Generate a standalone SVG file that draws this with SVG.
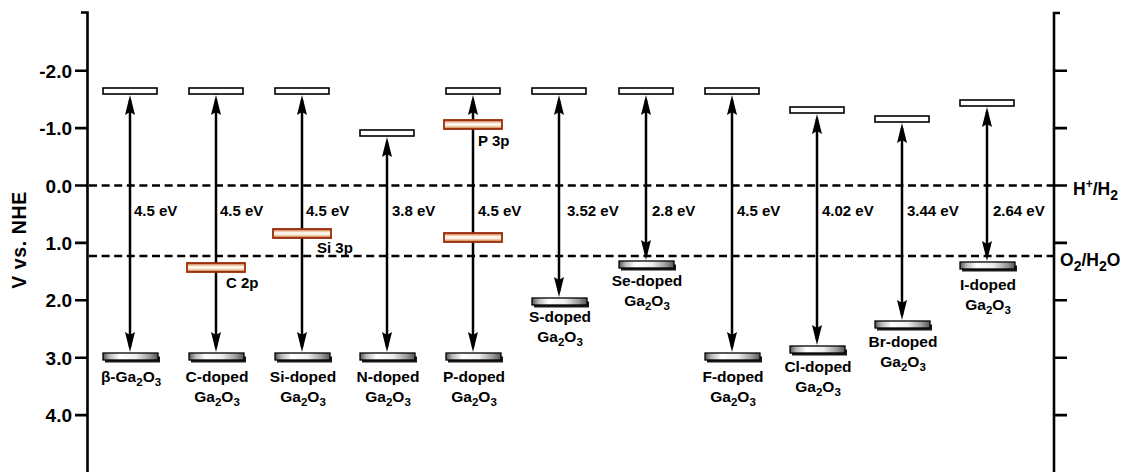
<svg xmlns="http://www.w3.org/2000/svg" width="1129" height="472" viewBox="0 0 1129 472">
<defs>
<style>
text{font-family:"Liberation Sans",Arial,sans-serif;font-weight:bold;fill:#000}
.tick{font-size:19px;text-anchor:end}
.lab{font-size:15.5px;text-anchor:middle}
.ev{font-size:15px}
.axis{stroke:#000;stroke-width:2.6;fill:none}
.dash{stroke:#000;stroke-width:2.4;stroke-dasharray:8 4.6;fill:none}
.cb{fill:#fff;stroke:#000;stroke-width:1.6}
.vb{fill:url(#gvb);stroke:#000;stroke-width:1.3}
.sh{fill:#1a1a1a}
.imp{fill:url(#gimp);stroke:#9a2a0c;stroke-width:1.8}
.arr{stroke:#000;stroke-width:2.5;fill:none;marker-start:url(#ah);marker-end:url(#ah)}
</style>
<linearGradient id="gvb" x1="0" y1="0" x2="1" y2="0">
<stop offset="0" stop-color="#555"/>
<stop offset="0.12" stop-color="#bbb"/>
<stop offset="0.3" stop-color="#ffffff"/>
<stop offset="0.6" stop-color="#eeeeee"/>
<stop offset="0.85" stop-color="#9a9a9a"/>
<stop offset="1" stop-color="#555"/>
</linearGradient>
<linearGradient id="gimp" x1="0" y1="0" x2="0" y2="1">
<stop offset="0" stop-color="#c0601c"/>
<stop offset="0.4" stop-color="#fff6ec"/>
<stop offset="0.6" stop-color="#fff3e6"/>
<stop offset="1" stop-color="#c06a22"/>
</linearGradient>
<marker id="ah" viewBox="0 0 20 10" refX="15" refY="5" markerWidth="20" markerHeight="10" markerUnits="userSpaceOnUse" orient="auto-start-reverse">
<path d="M0,0 L20,5 L0,10 L3,5 z" fill="#000"/>
</marker>
</defs>

<g id="left-axis">
<path class="axis" d="M81,12.5 H87.5 V472"/>
<path class="axis" d="M75,70.7 H87.5 M75,128.1 H87.5 M75,185.5 H87.5 M75,242.9 H87.5 M75,300.3 H87.5 M75,357.7 H87.5 M75,415.1 H87.5"/>
<text class="tick" x="72" y="77.5">-2.0</text>
<text class="tick" x="72" y="135">-1.0</text>
<text class="tick" x="72" y="192.5">0.0</text>
<text class="tick" x="72" y="250">1.0</text>
<text class="tick" x="72" y="307">2.0</text>
<text class="tick" x="72" y="364.5">3.0</text>
<text class="tick" x="72" y="422">4.0</text>
<text x="26" y="240" font-size="19.5px" text-anchor="middle" transform="rotate(-90 26 240)" letter-spacing="0.6">V vs. NHE</text>
</g>

<g id="right-axis">
<path class="axis" d="M1060,13 H1054 V472"/>
<path class="axis" d="M1054,70.7 H1067 M1054,128.1 H1067 M1054,185.5 H1067 M1054,242.9 H1067 M1054,300.3 H1067 M1054,357.7 H1067 M1054,415.1 H1067"/>
<text x="1073" y="195" font-size="17.5px">H<tspan font-size="12px" dy="-7">+</tspan><tspan dy="7">/H</tspan><tspan font-size="14px" dy="5">2</tspan></text>
<text x="1060" y="266" font-size="17.5px">O<tspan font-size="14px" dy="5">2</tspan><tspan dy="-5">/H</tspan><tspan font-size="14px" dy="5">2</tspan><tspan dy="-5">O</tspan></text>
</g>

<g id="levels">
<line class="dash" x1="89" y1="185.5" x2="1053" y2="185.5"/>
<line class="dash" x1="89" y1="256" x2="1053" y2="256"/>
</g>

<g id="connectors">
<line class="arr" x1="130" y1="100" x2="130" y2="347"/>
<line class="arr" x1="216" y1="100" x2="216" y2="347"/>
<line class="arr" x1="302" y1="100" x2="302" y2="347"/>
<line class="arr" x1="387" y1="142" x2="387" y2="347"/>
<line class="arr" x1="473" y1="100" x2="473" y2="347"/>
<line class="arr" x1="559" y1="100" x2="559" y2="292"/>
<line class="arr" x1="646" y1="100" x2="646" y2="255"/>
<line class="arr" x1="732" y1="100" x2="732" y2="347"/>
<line class="arr" x1="817" y1="119" x2="817" y2="340"/>
<line class="arr" x1="902" y1="128" x2="902" y2="315"/>
<line class="arr" x1="987" y1="112" x2="987" y2="256"/>
</g>

<g id="beta-Ga2O3">
<rect class="cb" x="103" y="88" width="54" height="6"/>
<rect class="sh" x="105" y="356.5" width="55" height="6"/>
<rect class="vb" x="103" y="353" width="55" height="7"/>
<text class="ev" x="134" y="216">4.5 eV</text>
<text class="lab" x="131" y="382">β-Ga<tspan font-size="11.5px" dy="4">2</tspan><tspan dy="-4">O</tspan><tspan font-size="11.5px" dy="4">3</tspan></text>
</g>

<g id="C-doped">
<rect class="cb" x="189" y="88" width="54" height="6"/>
<rect class="sh" x="191" y="356.5" width="55" height="6"/>
<rect class="vb" x="189" y="353" width="55" height="7"/>
<rect class="imp" x="187" y="263" width="58" height="9"/>
<text class="ev" x="220" y="216">4.5 eV</text>
<text class="ev" x="226" y="288">C 2p</text>
<text class="lab" x="217" y="382">C-doped</text>
<text class="lab" x="217" y="402">Ga<tspan font-size="11.5px" dy="4">2</tspan><tspan dy="-4">O</tspan><tspan font-size="11.5px" dy="4">3</tspan></text>
</g>

<g id="Si-doped">
<rect class="cb" x="275" y="88" width="54" height="6"/>
<rect class="sh" x="277" y="356.5" width="55" height="6"/>
<rect class="vb" x="275" y="353" width="55" height="7"/>
<rect class="imp" x="273" y="229" width="58" height="9"/>
<text class="ev" x="306" y="216">4.5 eV</text>
<text class="ev" x="317" y="253">Si 3p</text>
<text class="lab" x="303" y="382">Si-doped</text>
<text class="lab" x="303" y="402">Ga<tspan font-size="11.5px" dy="4">2</tspan><tspan dy="-4">O</tspan><tspan font-size="11.5px" dy="4">3</tspan></text>
</g>

<g id="N-doped">
<rect class="cb" x="360" y="130" width="54" height="6"/>
<rect class="sh" x="362" y="356.5" width="55" height="6"/>
<rect class="vb" x="360" y="353" width="55" height="7"/>
<text class="ev" x="392" y="216">3.8 eV</text>
<text class="lab" x="388" y="382">N-doped</text>
<text class="lab" x="388" y="402">Ga<tspan font-size="11.5px" dy="4">2</tspan><tspan dy="-4">O</tspan><tspan font-size="11.5px" dy="4">3</tspan></text>
</g>

<g id="P-doped">
<rect class="cb" x="446" y="88" width="54" height="6"/>
<rect class="sh" x="448" y="356.5" width="55" height="6"/>
<rect class="vb" x="446" y="353" width="55" height="7"/>
<rect class="imp" x="444" y="120" width="58" height="9"/>
<rect class="imp" x="444" y="233" width="58" height="9"/>
<text class="ev" x="478" y="216">4.5 eV</text>
<text class="ev" x="478" y="146">P 3p</text>
<text class="lab" x="474" y="382">P-doped</text>
<text class="lab" x="474" y="402">Ga<tspan font-size="11.5px" dy="4">2</tspan><tspan dy="-4">O</tspan><tspan font-size="11.5px" dy="4">3</tspan></text>
</g>

<g id="S-doped">
<rect class="cb" x="532" y="88" width="54" height="6"/>
<rect class="sh" x="534" y="301.5" width="55" height="6"/>
<rect class="vb" x="532" y="298" width="55" height="7"/>
<text class="ev" x="567" y="216">3.52 eV</text>
<text class="lab" x="560" y="322">S-doped</text>
<text class="lab" x="560" y="342">Ga<tspan font-size="11.5px" dy="4">2</tspan><tspan dy="-4">O</tspan><tspan font-size="11.5px" dy="4">3</tspan></text>
</g>

<g id="Se-doped">
<rect class="cb" x="619" y="88" width="54" height="6"/>
<rect class="sh" x="621" y="264.5" width="55" height="6"/>
<rect class="vb" x="619" y="261" width="55" height="7"/>
<text class="ev" x="652" y="216">2.8 eV</text>
<text class="lab" x="647" y="286">Se-doped</text>
<text class="lab" x="647" y="306">Ga<tspan font-size="11.5px" dy="4">2</tspan><tspan dy="-4">O</tspan><tspan font-size="11.5px" dy="4">3</tspan></text>
</g>

<g id="F-doped">
<rect class="cb" x="705" y="88" width="54" height="6"/>
<rect class="sh" x="707" y="356.5" width="55" height="6"/>
<rect class="vb" x="705" y="353" width="55" height="7"/>
<text class="ev" x="737" y="216">4.5 eV</text>
<text class="lab" x="733" y="382">F-doped</text>
<text class="lab" x="733" y="402">Ga<tspan font-size="11.5px" dy="4">2</tspan><tspan dy="-4">O</tspan><tspan font-size="11.5px" dy="4">3</tspan></text>
</g>

<g id="Cl-doped">
<rect class="cb" x="790" y="107" width="54" height="6"/>
<rect class="sh" x="792" y="349.5" width="55" height="6"/>
<rect class="vb" x="790" y="346" width="55" height="7"/>
<text class="ev" x="822" y="216">4.02 eV</text>
<text class="lab" x="818" y="372">Cl-doped</text>
<text class="lab" x="818" y="392">Ga<tspan font-size="11.5px" dy="4">2</tspan><tspan dy="-4">O</tspan><tspan font-size="11.5px" dy="4">3</tspan></text>
</g>

<g id="Br-doped">
<rect class="cb" x="875" y="116" width="54" height="6"/>
<rect class="sh" x="877" y="324.5" width="55" height="6"/>
<rect class="vb" x="875" y="321" width="55" height="7"/>
<text class="ev" x="907" y="216">3.44 eV</text>
<text class="lab" x="903" y="347">Br-doped</text>
<text class="lab" x="903" y="367">Ga<tspan font-size="11.5px" dy="4">2</tspan><tspan dy="-4">O</tspan><tspan font-size="11.5px" dy="4">3</tspan></text>
</g>

<g id="I-doped">
<rect class="cb" x="960" y="100" width="54" height="6"/>
<rect class="sh" x="962" y="265.5" width="55" height="6"/>
<rect class="vb" x="960" y="262" width="55" height="7"/>
<text class="ev" x="993" y="216">2.64 eV</text>
<text class="lab" x="988" y="290">I-doped</text>
<text class="lab" x="988" y="310">Ga<tspan font-size="11.5px" dy="4">2</tspan><tspan dy="-4">O</tspan><tspan font-size="11.5px" dy="4">3</tspan></text>
</g>
</svg>
